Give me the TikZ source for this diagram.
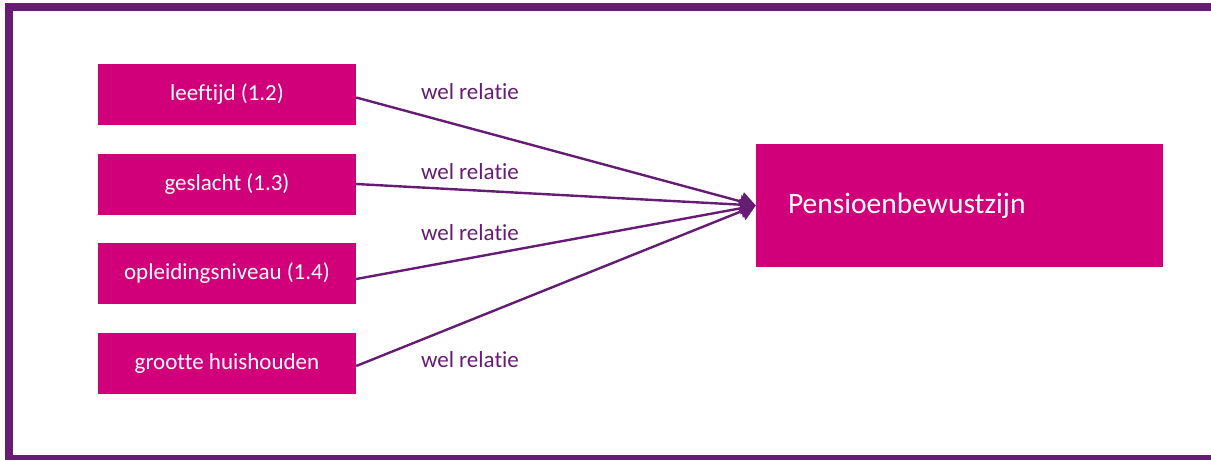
\documentclass[tikz,border=0pt]{standalone}
\usepackage{fontspec}
\setmainfont{Carlito}[Ligatures=NoCommon]
\usetikzlibrary{arrows.meta}
\definecolor{magentabox}{HTML}{D1007A}
\definecolor{purpleline}{HTML}{661C74}
\begin{document}
\begin{tikzpicture}[x=1pt,y=-1pt,
  factor/.style={fill=magentabox,text=white,minimum width=258pt,minimum height=61pt,inner sep=0pt,font=\fontsize{23}{27}\selectfont},
  relation/.style={-{Triangle[length=15pt,width=19pt]},line width=2.4pt,purpleline},
  rellabel/.style={text=purpleline,font=\fontsize{23}{27}\selectfont}]
  \useasboundingbox (0,0) rectangle (1211,459);
  \clip (0,0) rectangle (1211,459);
  \draw[purpleline,line width=8pt] (9,7) rectangle (1240,459);
  \node[factor] (age) at (227,94.5) {leeftijd (1.2)};
  \node[factor] (sex) at (227,184) {geslacht (1.3)};
  \node[factor] (edu) at (227,273) {opleidingsniveau (1.4)};
  \node[factor] (hh) at (227,363) {grootte huishouden};
  \node[fill=magentabox,text=white,minimum height=123pt,text width=343pt,inner xsep=32pt,inner ysep=0pt,align=left,font=\fontsize{29.5}{34}\selectfont] (pb) at (959.5,205.5) {Pensioenbewustzijn};
  \draw[relation] ([yshift=-3pt]age.east) -- (pb.west);
  \draw[relation] (sex.east) -- (pb.west);
  \draw[relation] ([yshift=-6pt]edu.east) -- (pb.west);
  \draw[relation] ([yshift=-3pt]hh.east) -- (pb.west);
  \node[rellabel] (l1) at (470,92) {wel relatie};
  \node[rellabel] (l2) at (470,172) {wel relatie};
  \node[rellabel] (l3) at (470,233) {wel relatie};
  \node[rellabel] (l4) at (470,360) {wel relatie};
\end{tikzpicture}
\end{document}
